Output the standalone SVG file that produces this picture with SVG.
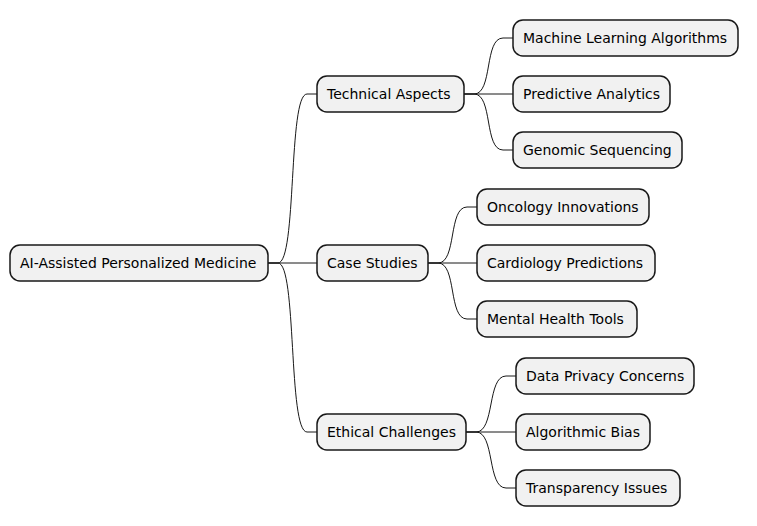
<svg xmlns="http://www.w3.org/2000/svg" width="757" height="526" viewBox="0 0 757 526">
<style>
.n rect{fill:#f1f1f1;stroke:#181818;stroke-width:1.5}
.n text{font-family:"DejaVu Sans",sans-serif;font-size:14px;fill:#000}
#edges path{fill:none;stroke:#181818;stroke-width:1}
</style>
<rect width="757" height="526" fill="#fff"/>
<g id="edges">
<path d="M268,263 L278,263 C297,263 288,94 307,94 L317,94"/>
<path d="M268,263 L317,263"/>
<path d="M268,263 L278,263 C297,263 288,432 307,432 L317,432"/>
<path d="M464,94 L474,94 C493,94 484,38 503,38 L513,38"/>
<path d="M464,94 L513,94"/>
<path d="M464,94 L474,94 C493,94 484,150 503,150 L513,150"/>
<path d="M428,263 L438,263 C457,263 448,207 467,207 L477,207"/>
<path d="M428,263 L477,263"/>
<path d="M428,263 L438,263 C457,263 448,319 467,319 L477,319"/>
<path d="M466,432 L476,432 C495,432 487,376 506,376 L516,376"/>
<path d="M466,432 L516,432"/>
<path d="M466,432 L476,432 C495,432 487,488 506,488 L516,488"/>
</g>
<g id="root" class="n"><rect x="10" y="245" width="258" height="36" rx="10"/><text x="20" y="268">AI-Assisted Personalized Medicine</text></g>
<g id="tech" class="n"><rect x="317" y="76" width="147" height="36" rx="10"/><text x="327" y="99">Technical Aspects</text></g>
<g id="case" class="n"><rect x="317" y="245" width="111" height="36" rx="10"/><text x="327" y="268">Case Studies</text></g>
<g id="eth" class="n"><rect x="317" y="414" width="149" height="36" rx="10"/><text x="327" y="437">Ethical Challenges</text></g>
<g id="ml" class="n"><rect x="513" y="20" width="225" height="36" rx="10"/><text x="523" y="43">Machine Learning Algorithms</text></g>
<g id="pa" class="n"><rect x="513" y="76" width="157" height="36" rx="10"/><text x="523" y="99">Predictive Analytics</text></g>
<g id="gs" class="n"><rect x="513" y="132" width="169" height="36" rx="10"/><text x="523" y="155">Genomic Sequencing</text></g>
<g id="oi" class="n"><rect x="477" y="189" width="172" height="36" rx="10"/><text x="487" y="212">Oncology Innovations</text></g>
<g id="cp" class="n"><rect x="477" y="245" width="178" height="36" rx="10"/><text x="487" y="268">Cardiology Predictions</text></g>
<g id="mh" class="n"><rect x="477" y="301" width="160" height="36" rx="10"/><text x="487" y="324">Mental Health Tools</text></g>
<g id="dp" class="n"><rect x="516" y="358" width="178" height="36" rx="10"/><text x="526" y="381">Data Privacy Concerns</text></g>
<g id="ab" class="n"><rect x="516" y="414" width="134" height="36" rx="10"/><text x="526" y="437">Algorithmic Bias</text></g>
<g id="ti" class="n"><rect x="516" y="470" width="164" height="36" rx="10"/><text x="526" y="493">Transparency Issues</text></g>
</svg>
